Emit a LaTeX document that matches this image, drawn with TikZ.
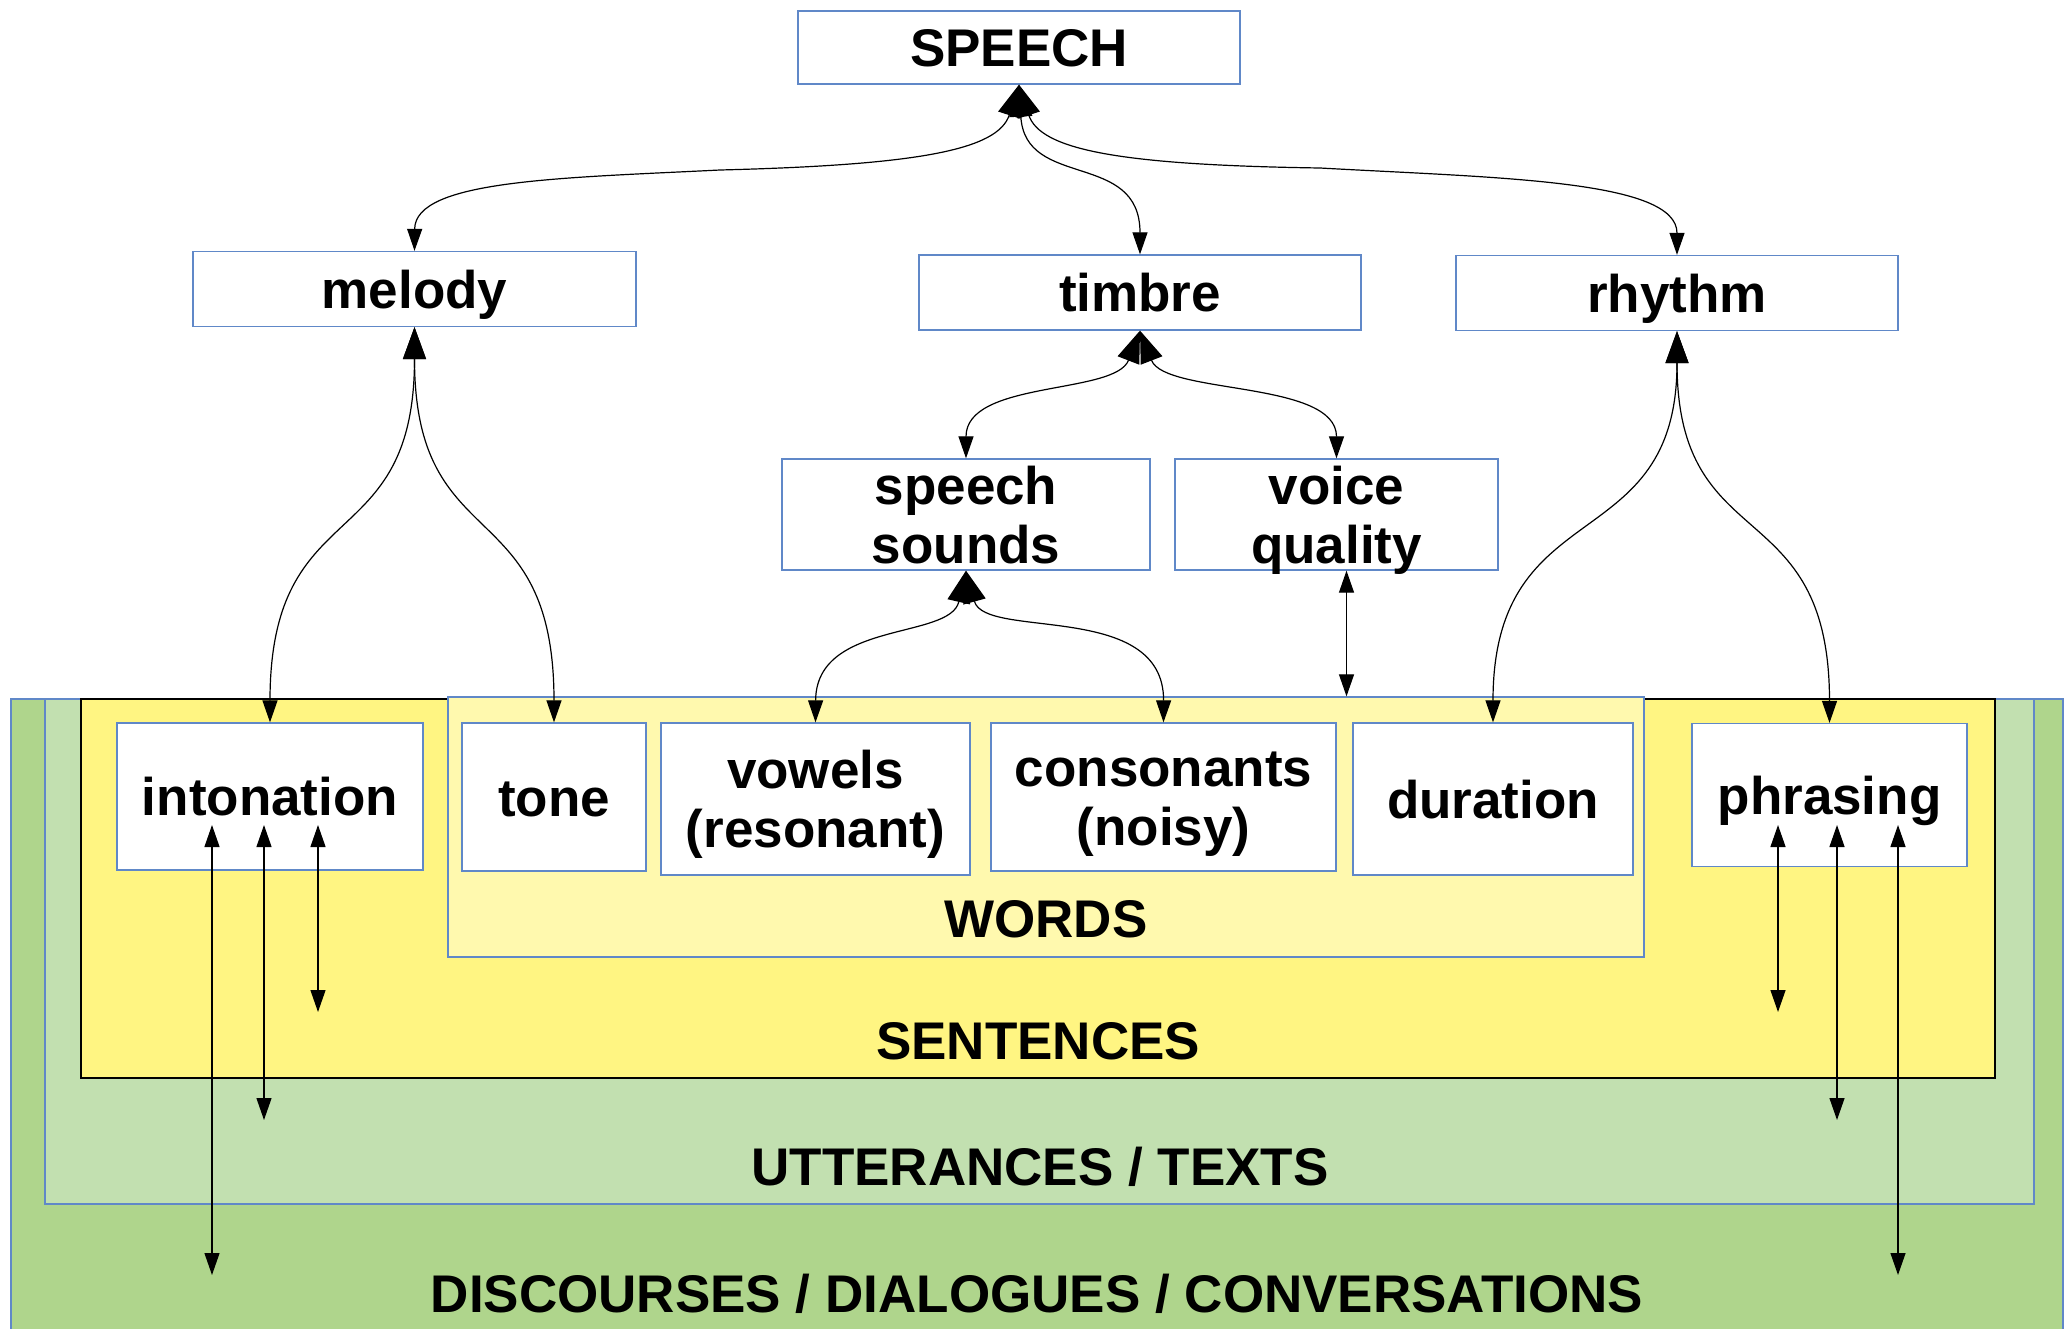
\documentclass[tikz,border=0pt]{standalone}
\usepackage{fontspec}
\setmainfont{Liberation Sans}
\usetikzlibrary{arrows.meta}

\definecolor{boxblue}{RGB}{96,136,200}
\definecolor{discgreen}{RGB}{175,213,140}
\definecolor{uttgreen}{RGB}{194,224,176}
\definecolor{sentyellow}{RGB}{255,245,130}
\definecolor{wordyellow}{RGB}{255,249,174}

\begin{document}
\begin{tikzpicture}[x=1pt,y=-1pt,
  lbl/.style={font=\bfseries\fontsize{53}{59}\selectfont},
  unit/.style={lbl, draw=boxblue, line width=1.3pt, fill=white, inner sep=0pt,
               text height=38pt, text depth=0pt},
  unittwo/.style={unit, align=center, text height=97pt},
  layer/.style={draw=boxblue, line width=1.3pt, inner sep=0pt},
  % curved links: large head at the upper end, small head at the lower end
  link/.style={line width=1.2pt,
               {Triangle[length=32pt,width=23pt]}-{Triangle[length=22pt,width=15pt]}},
  % straight links: equal heads
  vlink/.style={line width=1.2pt,
               {Triangle[length=22pt,width=15pt]}-{Triangle[length=22pt,width=15pt]}},
]
\useasboundingbox (0,0) rectangle (2064,1328);
\fill[white] (0,0) rectangle (2064,1328);

% nested levels of linguistic structure
\node[layer, fill=discgreen, minimum width=2052pt, minimum height=641pt] (disc) at (1037,1019.5) {};
\node[layer, fill=uttgreen, minimum width=1989pt, minimum height=505pt] (utt) at (1039.5,951.5) {};
\node[layer, draw=black, fill=sentyellow, minimum width=1914pt, minimum height=379pt] (sent) at (1038,888.5) {};
\node[layer, fill=wordyellow, minimum width=1196pt, minimum height=260pt] (words) at (1046,827) {};

\node[lbl, anchor=base] (wordsT) at (1046,937) {WORDS};
\node[lbl, anchor=base] (sentT) at (1038,1059) {SENTENCES};
\node[lbl, anchor=base] (uttT) at (1040,1185) {UTTERANCES / TEXTS};
\node[lbl, anchor=base] (discT) at (1037,1312) {DISCOURSES / DIALOGUES / CONVERSATIONS};

% top of the hierarchy
\node[unit, minimum width=442pt, minimum height=73pt] (speech) at (1019,47.5) {SPEECH};
\node[unit, minimum width=443pt, minimum height=75pt] (melody) at (414.5,289) {melody};
\node[unit, minimum width=442pt, minimum height=75pt] (timbre) at (1140,292.5) {timbre};
\node[unit, minimum width=442pt, minimum height=75pt] (rhythm) at (1677,293) {rhythm};
\node[unittwo, minimum width=368pt, minimum height=111pt] (sounds) at (966,514.5) {speech\\sounds};
\node[unittwo, minimum width=323pt, minimum height=111pt] (voice) at (1336.5,514.5) {voice\\quality};

% units inside the levels
\node[unit, minimum width=306pt, minimum height=147pt] (inton) at (270,796.5) {intonation};
\node[unit, minimum width=184pt, minimum height=148pt] (tone) at (554,797) {tone};
\node[unittwo, minimum width=309pt, minimum height=152pt] (vowels) at (815.5,799) {vowels\\(resonant)};
\node[unittwo, minimum width=345pt, minimum height=148pt] (cons) at (1163.5,797) {consonants\\(noisy)};
\node[unit, minimum width=280pt, minimum height=152pt] (dur) at (1493,799) {duration};
\node[unit, minimum width=275pt, minimum height=143pt] (phr) at (1829.5,795) {phrasing};

% SPEECH to its three components
\coordinate (mL) at (720,170);
\coordinate (mR) at (1320,168);
\draw[link] (speech.south) .. controls (998,150) and (918,165) .. (mL)
            .. controls (560,178) and (415,180) .. (melody.north);
\draw[link] (speech.south) .. controls (1025,190) and (1140,150) .. (timbre.north);
\draw[link] (speech.south) .. controls (1040,150) and (1120,165) .. (mR)
            .. controls (1500,178) and (1677,180) .. (rhythm.north);

% timbre
\draw[link] (timbre.south) .. controls (1115,395) and (966,380) .. (sounds.north);
\draw[link] (timbre.south) .. controls (1165,395) and (1336.5,380) .. (voice.north);

% speech sounds
\draw[link] (sounds.south) .. controls (950,640) and (816,620) .. (vowels.north);
\draw[link] (sounds.south) .. controls (985,640) and (1164,600) .. (cons.north);

% voice quality to the word level
\draw[vlink] ([xshift=10pt]voice.south) -- ([xshift=10pt]voice.south |- words.north);

% melody
\draw[link] (melody.south) .. controls (414.5,560) and (270,490) .. (inton.north);
\draw[link] (melody.south) .. controls (414.5,560) and (554,490) .. (tone.north);

% rhythm
\draw[link] (rhythm.south) .. controls (1677,560) and (1493,490) .. (dur.north);
\draw[link] (rhythm.south) .. controls (1677,560) and (1829.5,490) .. (phr.north);

% intonation reaching down through the levels
\coordinate (iA1) at (212,825);  \coordinate (iA2) at (212,1275);
\coordinate (iB1) at (264,825);  \coordinate (iB2) at (264,1120);
\coordinate (iC1) at (318,825);  \coordinate (iC2) at (318,1012);
\draw[vlink] (iA1) -- (iA2);
\draw[vlink] (iB1) -- (iB2);
\draw[vlink] (iC1) -- (iC2);

% phrasing reaching down through the levels
\coordinate (pA1) at (1778,825); \coordinate (pA2) at (1778,1012);
\coordinate (pB1) at (1837,825); \coordinate (pB2) at (1837,1120);
\coordinate (pC1) at (1898,825); \coordinate (pC2) at (1898,1275);
\draw[vlink] (pA1) -- (pA2);
\draw[vlink] (pB1) -- (pB2);
\draw[vlink] (pC1) -- (pC2);
\end{tikzpicture}
\end{document}
